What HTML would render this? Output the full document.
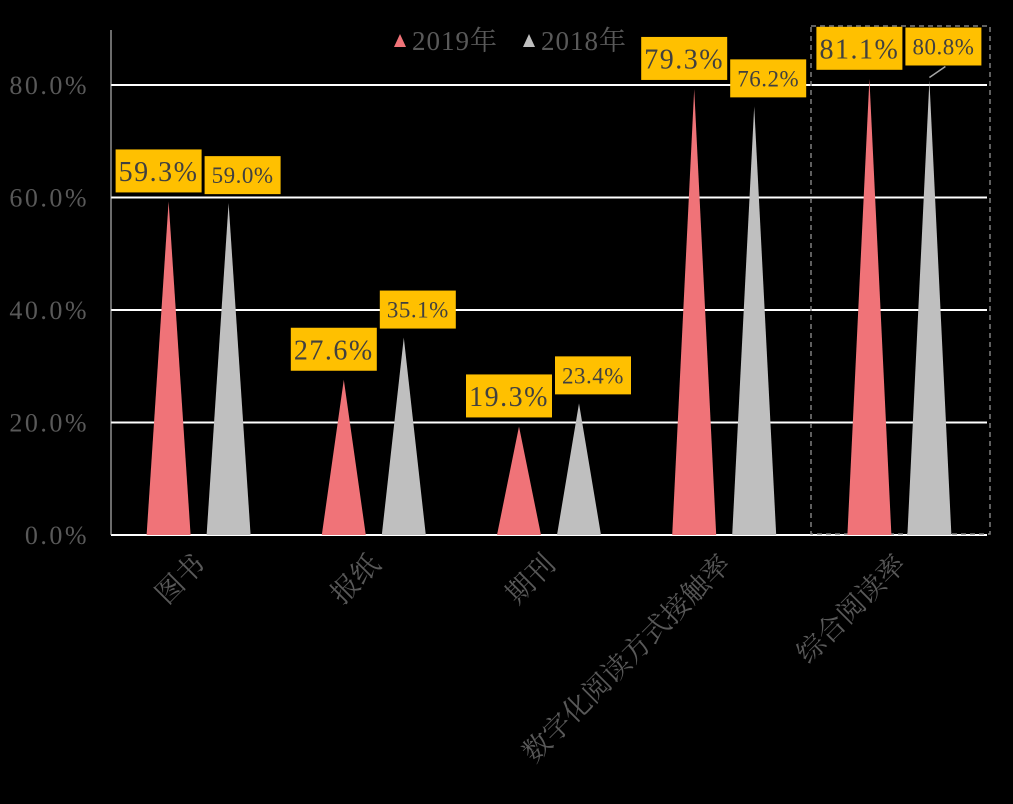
<!DOCTYPE html>
<html><head><meta charset="utf-8"><style>
html,body{margin:0;padding:0;background:#000;}
svg text{font-family:"Liberation Serif","Noto Serif CJK SC",serif;}
</style></head><body>
<svg id="chart" width="1013" height="799" xmlns="http://www.w3.org/2000/svg"></svg>
<script>
const categories = ["图书","报纸","期刊","数字化阅读方式接触率","综合阅读率"];
const series2019 = [59.3, 27.6, 19.3, 79.3, 81.1];
const series2018 = [59.0, 35.1, 23.4, 76.2, 80.8];
const yTicks = [0, 20, 40, 60, 80];
const yTickLabels = ["0.0%","20.0%","40.0%","60.0%","80.0%"];

const NS = "http://www.w3.org/2000/svg";
const svg = document.getElementById('chart');
const X0 = 111, X1 = 987, Y0 = 535, PX_PER = 5.625;
const bandW = (X1 - X0) / categories.length;
const y = v => Y0 - v * PX_PER;
const xc = i => X0 + bandW * (i + 0.5);
function mk(tag, attrs, parent) {
  const e = document.createElementNS(NS, tag);
  for (const k in attrs) e.setAttribute(k, attrs[k]);
  (parent || svg).appendChild(e);
  return e;
}
yTicks.forEach((t, i) => {
  const g = mk('line', {x1: X0, x2: X1, y1: y(t), y2: y(t), stroke: '#fff', 'stroke-width': 2});
  
  
  const tl = mk('text', {x: 89, y: y(t) + 9, 'text-anchor': 'end', fill: '#595959', 'font-size': 26, 'letter-spacing': 2.5});
  tl.textContent = yTickLabels[i];
  
  
});
const ax = mk('line', {x1: X0, x2: X0, y1: 30, y2: Y0, stroke: '#d9d9d9', 'stroke-width': 1});



const sel = mk('rect', {x: 811, y: 26, width: 179, height: 508, fill: 'none', stroke: '#7f7f7f', 'stroke-width': 1.5, 'stroke-dasharray': '5,4'});



function label(cx, bottom, val, big) {
  const w = big ? 86 : 76, h = big ? 43 : 38;
  const r = mk('rect', {x: cx - w / 2, y: bottom - h, width: w, height: h, fill: '#FFC000'});
  
  
  const t = mk('text', {x: cx, y: bottom - h / 2 + (big ? 10 : 8), 'text-anchor': 'middle', fill: '#404040', 'font-size': big ? 28 : 23, 'letter-spacing': big ? 1.5 : 0.5});
  t.textContent = val.toFixed(1) + '%';
  
  
}

categories.forEach((c, i) => {
  const cx = xc(i);
  const rx = cx - 30, gx = cx + 30, hw = 22;
  const r = mk('polygon', {points: `${rx - hw},${Y0} ${rx},${y(series2019[i])} ${rx + hw},${Y0}`, fill: '#F07378'});
  
  
  const g = mk('polygon', {points: `${gx - hw},${Y0} ${gx},${y(series2018[i])} ${gx + hw},${Y0}`, fill: '#BFBFBF'});
  
  
  label(rx - 10, y(series2019[i]) - 9, series2019[i], true);
  if (i === categories.length - 1) {
    const ll = mk('line', {x1: gx, y1: y(series2018[i]) - 3, x2: gx + 16, y2: y(series2018[i]) - 14, stroke: '#a6a6a6', 'stroke-width': 1.5});
    
    
    label(gx + 14, y(series2018[i]) - 15, series2018[i], false);
  } else {
    label(gx + 14, y(series2018[i]) - 9, series2018[i], false);
  }
  const ct = mk('text', {x: 0, y: 0, 'text-anchor': 'end', fill: '#595959', 'font-size': 28,
    transform: `translate(${cx + 8},${566}) rotate(-45)`});
  ct.textContent = c;
  
  
});

const lg = mk('g', {});


const l1 = mk('polygon', {points: '394,47 400,34 406,47', fill: '#F07378'}, lg);


const lt1 = mk('text', {x: 412, y: 50, fill: '#595959', 'font-size': 27, 'letter-spacing': 1}, lg);
lt1.textContent = '2019年';


const l2 = mk('polygon', {points: '523,47 529,34 535,47', fill: '#BFBFBF'}, lg);


const lt2 = mk('text', {x: 541, y: 50, fill: '#595959', 'font-size': 27, 'letter-spacing': 1}, lg);
lt2.textContent = '2018年';


</script>
</body></html>
